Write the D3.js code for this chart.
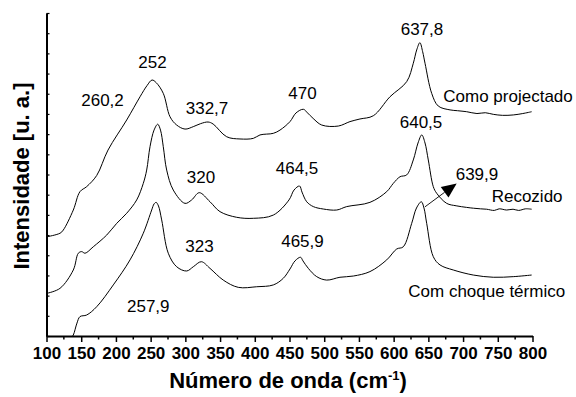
<!DOCTYPE html>
<html>
<head>
<meta charset="utf-8">
<script src="https://cdn.jsdelivr.net/npm/d3@7"></script>
<style>
  html, body { margin: 0; padding: 0; background: #fff; }
  svg { display: block; font-family: "Liberation Sans", Arial, sans-serif; }
</style>
</head>
<body>
<svg id="chart" width="576" height="397"></svg>
<script>
// Raman spectra: [wavenumber (cm-1), intensity (a.u., offset per curve)]
const comoProjectado = [
  [101.2, 4.92], [119.4, 5.09], [124.2, 5.25], [138.6, 6.24], [148.2, 7.15],
  [157.9, 7.40], [172.3, 7.95], [188.6, 9.21],
  [215.5, 10.70], [234.7, 11.85], [244.7, 12.40], [252.0, 12.68], [258.0, 12.55],
  [268.2, 12.02], [277.9, 10.86], [287.5, 10.45], [299.5, 10.25], [311.4, 10.37],
  [322.0, 10.52], [332.7, 10.60], [340.0, 10.50], [359.5, 9.87], [378.7, 9.76],
  [397.9, 9.79], [407.5, 9.96], [426.7, 10.04], [436.3, 10.20], [450.7, 10.62],
  [459.4, 11.05], [470.0, 11.23], [476.0, 11.05], [484.0, 10.78], [496.4, 10.45],
  [520.3, 10.40], [537.1, 10.62], [551.5, 10.75], [570.7, 10.91], [594.7, 11.85],
  [618.8, 12.60], [628.3, 13.51], [633.2, 14.17], [637.8, 14.53], [641.8, 14.08],
  [645.2, 13.51], [654.8, 12.02], [664.3, 11.39], [681.2, 11.20], [692.0, 11.16],
  [705.2, 11.11], [720.0, 11.02], [732.0, 11.06], [743.5, 10.98], [757.0, 10.93],
  [772.3, 10.95], [786.0, 11.02], [798.8, 11.11]
];

const recozido = [
  [101.2, 2.12], [119.4, 2.36], [138.6, 3.27], [145.8, 4.10], [150.7, 4.18],
  [155.5, 4.10], [167.4, 4.42], [186.7, 5.00], [201.1, 5.58], [215.5, 6.08],
  [229.9, 6.74], [239.4, 7.56], [244.3, 8.22], [249.1, 9.38], [254.9, 10.20],
  [260.2, 10.49], [264.2, 10.20], [268.2, 9.38], [273.1, 8.22], [282.6, 7.23],
  [299.5, 6.57], [309.1, 6.74], [320.0, 7.10], [335.5, 6.65], [349.9, 6.16],
  [373.9, 5.88], [397.9, 5.83], [426.7, 5.99], [449.3, 6.74], [456.5, 7.23],
  [464.5, 7.43], [468.0, 7.13], [474.8, 6.65], [484.3, 6.41], [498.7, 6.29],
  [518.0, 6.24], [532.4, 6.41], [565.9, 6.62], [590.0, 7.15], [599.5, 7.56],
  [609.2, 7.89], [618.8, 7.98], [628.3, 8.72], [635.1, 9.56], [640.5, 9.96],
  [645.2, 9.56], [649.9, 8.72], [657.1, 7.40], [662.0, 7.07], [676.4, 6.57],
  [690.0, 6.45], [705.2, 6.37], [715.0, 6.33], [725.0, 6.30], [734.0, 6.28],
  [745.0, 6.22], [752.0, 6.30], [762.8, 6.24], [772.0, 6.28], [780.0, 6.22],
  [790.0, 6.30], [798.8, 6.28]
];

const choqueTermico = [
  [134.5, -0.15], [138.6, 0.05], [143.9, 0.64], [148.2, 0.96], [157.9, 1.04],
  [172.3, 1.45], [196.2, 2.53], [220.3, 3.77], [239.4, 5.09], [251.5, 6.24],
  [254.9, 6.54], [257.9, 6.62], [261.3, 6.44], [265.9, 5.75], [275.4, 4.10],
  [287.5, 3.43], [301.9, 3.22], [311.4, 3.43], [323.0, 3.68], [335.5, 3.35],
  [354.6, 2.77], [376.2, 2.41], [402.7, 2.44], [426.7, 2.53], [441.1, 2.86],
  [450.7, 3.32], [457.9, 3.72], [465.9, 3.90], [469.4, 3.72], [477.1, 3.35],
  [489.2, 2.94], [503.6, 2.77], [522.7, 2.91], [541.9, 2.97], [565.9, 3.19],
  [590.0, 3.77], [604.4, 4.31], [613.9, 4.42], [626.0, 5.58], [632.9, 6.34],
  [639.9, 6.65], [643.7, 6.34], [647.6, 5.58], [657.1, 3.93], [666.8, 3.52],
  [685.9, 3.27], [714.7, 3.02], [743.5, 2.91], [772.3, 2.94], [798.8, 3.02]
];

const series = [comoProjectado, recozido, choqueTermico];

// Peak annotations: text and its anchor [wavenumber, intensity]
const peakLabels = [
  ["260,2", 180.7, 11.39], ["252", 252.7, 13.28], ["332,7", 331.2, 11.00],
  ["470", 468.7, 11.74], ["637,8", 640.8, 14.91], ["640,5", 639.4, 10.29],
  ["464,5", 460.8, 8.02], ["320", 322.5, 7.56], ["639,9", 720.0, 7.73],
  ["323", 320.4, 4.16], ["465,9", 468.7, 4.42], ["257,9", 246.6, 1.20]
];

// Curve names, left-aligned
const seriesLabels = [
  ["Como projectado", 671.5, 11.61],
  ["Recozido", 741.2, 6.65],
  ["Com choque térmico", 621.1, 1.95]
];

// Arrow from the 639,9 peak toward its label: [start, tip]
const arrowPts = [[645.2, 6.40], [690.8, 7.56]];

const xTicks = d3.range(100, 801, 50);
const xMinorTicks = d3.range(125, 800, 50);
const yTicks = d3.range(0, 17, 1);

const svg = d3.select("#chart");
const x = d3.scaleLinear().domain([100, 800]).range([46.5, 532.5]);
const y = d3.scaleLinear().domain([0, 16]).range([336, 13]);

svg.append("defs").append("clipPath").attr("id", "plot-clip")
  .append("rect")
  .attr("x", x(100)).attr("y", y(16))
  .attr("width", x(800) - x(100)).attr("height", y(0) - y(16));

// Spectra
const line = d3.line()
  .x(d => x(d[0]))
  .y(d => y(d[1]))
  .curve(d3.curveCatmullRom.alpha(0.5));

svg.append("g").attr("clip-path", "url(#plot-clip)")
  .selectAll("path.spectrum")
  .data(series)
  .join("path")
  .attr("class", "spectrum")
  .attr("d", line)
  .attr("fill", "none")
  .attr("stroke", "#000")
  .attr("stroke-width", 1)
  .attr("stroke-linejoin", "round");

// Arrow
const [a0, a1] = arrowPts;
const ax0 = x(a0[0]), ay0 = y(a0[1]), ax1 = x(a1[0]), ay1 = y(a1[1]);
const ang = Math.atan2(ay1 - ay0, ax1 - ax0);
const headLen = 15, headHalf = 6.5;
const bx = ax1 - headLen * Math.cos(ang), by = ay1 - headLen * Math.sin(ang);
svg.append("line")
  .attr("x1", ax0).attr("y1", ay0).attr("x2", bx).attr("y2", by)
  .attr("stroke", "#000").attr("stroke-width", 0.9);
svg.append("path")
  .attr("d", `M${ax1},${ay1}` +
    `L${bx - headHalf * Math.sin(ang)},${by + headHalf * Math.cos(ang)}` +
    `L${bx + headHalf * Math.sin(ang)},${by - headHalf * Math.cos(ang)}Z`)
  .attr("fill", "#000");

// Annotations
svg.append("g").selectAll("text")
  .data(peakLabels)
  .join("text")
  .attr("x", d => x(d[1]))
  .attr("y", d => y(d[2]))
  .attr("text-anchor", "middle")
  .attr("font-size", 17)
  .attr("fill", "#000")
  .text(d => d[0]);

svg.append("g").selectAll("text")
  .data(seriesLabels)
  .join("text")
  .attr("x", d => x(d[1]))
  .attr("y", d => y(d[2]))
  .attr("text-anchor", "start")
  .attr("font-size", 17)
  .attr("fill", "#000")
  .text(d => d[0]);

// X axis
const gx = svg.append("g").attr("transform", `translate(0,${y(0)})`);
gx.call(d3.axisBottom(x).tickValues(xTicks).tickSize(6).tickSizeOuter(0).tickFormat(d3.format("d")));
gx.select(".domain").attr("stroke-width", 2).attr("stroke", "#000");
gx.selectAll(".tick line").attr("stroke-width", 1.5).attr("stroke", "#000");
gx.selectAll(".tick text")
  .attr("y", 23.3).attr("dy", null)
  .attr("font-size", 17).attr("font-weight", "bold")
  .attr("font-family", "'Liberation Sans', Arial, sans-serif")
  .attr("fill", "#000");
gx.selectAll("line.minor")
  .data(xMinorTicks)
  .join("line")
  .attr("class", "minor")
  .attr("x1", d => x(d)).attr("x2", d => x(d))
  .attr("y1", 0).attr("y2", 3.5)
  .attr("stroke", "#000").attr("stroke-width", 1.5);

// Y axis (ticks only, pointing inward)
const gy = svg.append("g").attr("transform", `translate(${x(100)},0)`);
gy.call(d3.axisLeft(y).tickValues(yTicks).tickSize(-3).tickSizeOuter(0).tickFormat(""));
gy.select(".domain").attr("stroke-width", 2).attr("stroke", "#000");
gy.selectAll(".tick line").attr("stroke-width", 1.2).attr("stroke", "#000");

// Axis titles
const xt = svg.append("text")
  .attr("x", 288).attr("y", 388.3)
  .attr("text-anchor", "middle")
  .attr("font-size", 22).attr("font-weight", "bold").attr("fill", "#000");
xt.append("tspan").text("Número de onda (cm");
xt.append("tspan").attr("font-size", 13).attr("dy", -8).text("-1");
xt.append("tspan").attr("dy", 8).text(")");

svg.append("text")
  .attr("transform", "translate(28.5,176) rotate(-90)")
  .attr("text-anchor", "middle")
  .attr("font-size", 22).attr("font-weight", "bold").attr("fill", "#000")
  .text("Intensidade [u. a.]");
</script>
</body>
</html>
